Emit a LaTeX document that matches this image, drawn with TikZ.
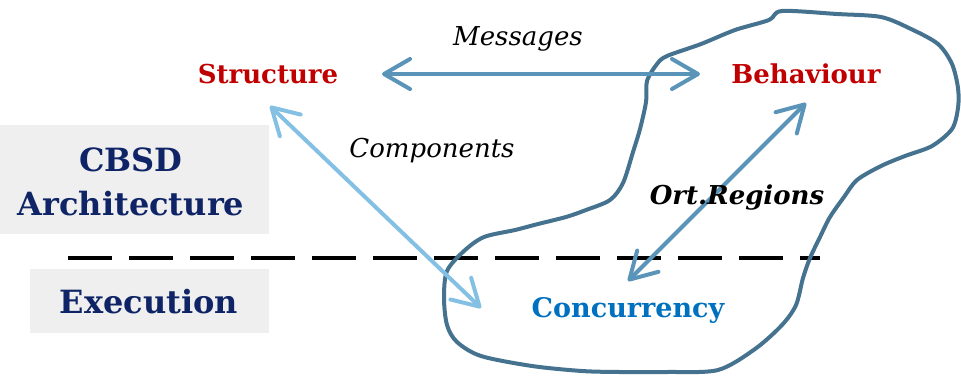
\documentclass[tikz,border=0pt]{standalone}
\usepackage{fontspec}
\setmainfont{DejaVu Serif}
\usetikzlibrary{arrows.meta}
\definecolor{navy}{HTML}{0E2466}
\definecolor{redtxt}{HTML}{C00000}
\definecolor{bluetxt}{HTML}{0070C0}
\definecolor{boxgrey}{HTML}{EFEFEF}
\definecolor{arrdark}{HTML}{5A94B8}
\definecolor{arrlight}{HTML}{84C0E3}
\definecolor{blobcol}{HTML}{45738F}
\begin{document}
\begin{tikzpicture}[x=1pt,y=-1pt,
  greybox/.style={fill=boxgrey,draw=none},
  layer/.style={text=navy,font=\bfseries\fontsize{32}{44}\selectfont,align=center,inner sep=0pt},
  concept/.style={font=\bfseries\fontsize{26}{30}\selectfont,inner sep=0pt},
  lbl/.style={font=\itshape\fontsize{26}{30}\selectfont,inner sep=0pt},
  conn/.style={line width=4pt,line cap=round,
    {Straight Barb[length=26pt,width=30pt,line cap=round,line join=round]}-{Straight Barb[length=26pt,width=30pt,line cap=round,line join=round]}},
  blob/.style={draw=blobcol,line width=4pt,line join=round}
]
\useasboundingbox (0,0) rectangle (961,376);
\fill[greybox] (0,125) rectangle (269,234);
\fill[greybox] (30,269) rectangle (269,333);
\node[layer] (cbsd) at (131,182) {CBSD\\Architecture};
\node[layer] (exec) at (149,302) {Execution};

\draw[black,line width=4pt,dash pattern=on 44pt off 17pt] (68,258) -- (820,258);

\draw[blob] plot[smooth cycle,tension=0.5] coordinates {
 (782,11) (837,14) (881,17) (911,29) (938,44) (952,64) (958,88) (958,108)
 (952,129) (932,146) (905,156) (881,166) (857,180) (844,197) (830,217)
 (820,237) (810,258) (803,278) (796,305) (782,325) (755,349) (718,370)
 (667,372) (620,372) (582,371) (532,366) (481,356) (457,342) (447,325)
 (444,298) (447,271) (464,251) (484,237) (515,230) (538,224) (566,217)
 (586,210) (610,200) (623,183) (633,152) (640,129) (646,102) (647,81)
 (657,64) (667,56) (701,44) (735,30) (769,20)};

\node[concept,text=redtxt] (structure) at (268,74) {Structure};
\node[concept,text=redtxt] (behaviour) at (806,74) {Behaviour};
\node[concept,text=bluetxt,font=\bfseries\fontsize{27}{31}\selectfont] (concurrency) at (628,310) {Concurrency};

\coordinate (sR) at (382,74);
\coordinate (bL) at (700,74);
\coordinate (sB) at (270,106);
\coordinate (cUL) at (481,308);
\coordinate (bB) at (806,103);
\coordinate (cT) at (628,281);

\draw[conn,arrdark] (sR) -- (bL);
\draw[conn,arrlight] (sB) -- (cUL);
\draw[conn,arrdark] (bB) -- (cT);

\node[lbl] (msg) at (518,39) {Messages};
\node[lbl] (comp) at (432,151) {Components};
\node[lbl,font=\bfseries\itshape\fontsize{26}{30}\selectfont] (ort) at (737,198) {Ort.Regions};
\end{tikzpicture}
\end{document}
